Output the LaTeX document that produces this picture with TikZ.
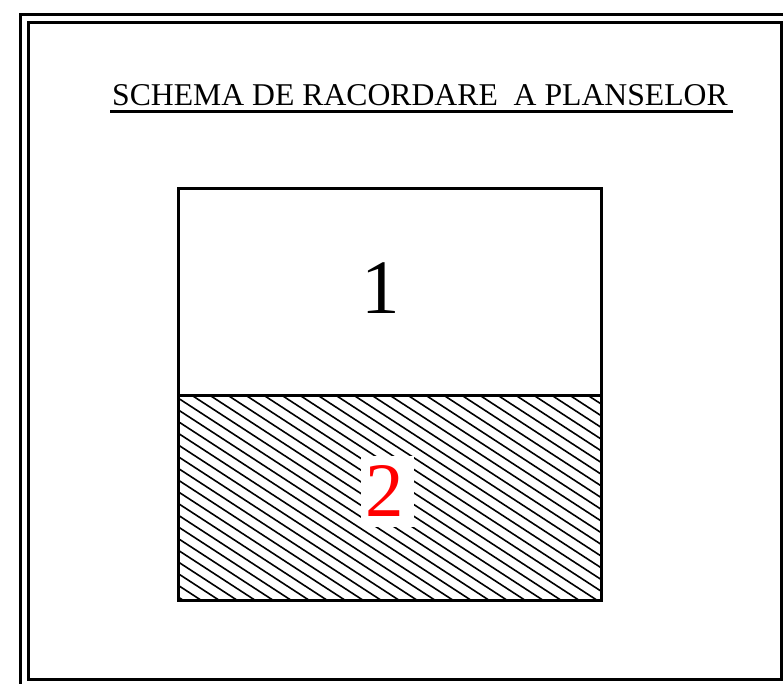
\documentclass[tikz,border=0pt]{standalone}
\usepackage{fontspec}
\setmainfont{Liberation Serif}
\begin{document}
\begin{tikzpicture}[x=1pt,y=-1pt,
  frameline/.style={line width=3pt},
  boxline/.style={line width=3pt},
  hatchline/.style={line width=1.6pt},
  titletext/.style={inner sep=0pt,anchor=base west,font=\fontsize{31.7}{34}\selectfont},
  numtext/.style={inner sep=0pt,anchor=base,font=\fontsize{77}{80}\selectfont}]
\useasboundingbox (0,0) rectangle (783,683);
\clip (0,0) rectangle (783,683);
% frames
\draw[frameline] (20.5,14.5) rectangle (795,695);
\draw[frameline] (28.5,22) rectangle (781,679);
% title
\node[titletext] (title) at (112,105) {SCHEMA DE RACORDARE\ \ A PLANSELOR};
\draw[line width=3pt] (110,111.5) -- (733,111.5);
% hatch
\begin{scope}
\clip (178,395) rectangle (601,600);
\foreach \k in {-25,...,19}
  \draw[hatchline] (178,398+\k*11.7) -- ++(423,275);
\end{scope}
\fill[white] (361,456) rectangle (414,527);
% box
\draw[boxline] (178,188) rectangle (601,600);
\draw[boxline] (178,395) -- (601,395);
\node[numtext] (one) at (381,313) {1};
\node[numtext,text=red] (two) at (385,516) {2};
\end{tikzpicture}
\end{document}
